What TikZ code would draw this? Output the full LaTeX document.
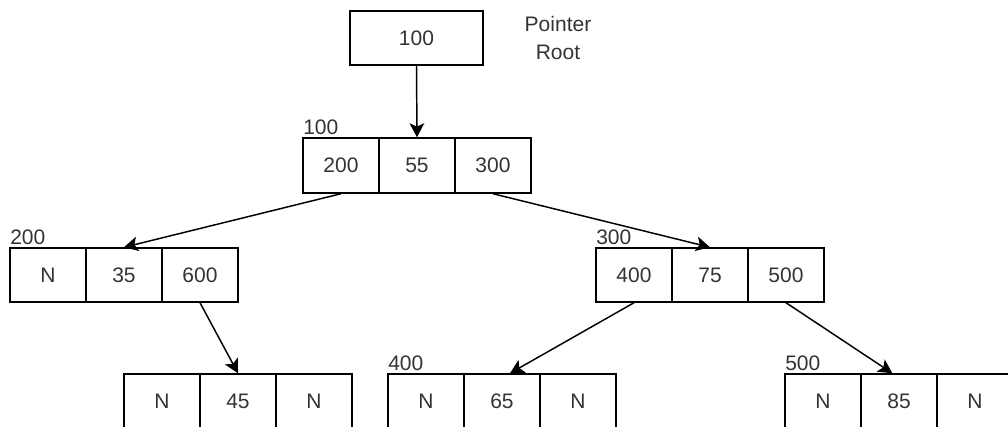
\documentclass[tikz,border=0pt]{standalone}
\usepackage{fontspec}
\setmainfont{Liberation Sans}
\usetikzlibrary{arrows.meta}
\definecolor{txt}{HTML}{333333}
\begin{document}
\begin{tikzpicture}[x=0.75pt,y=-0.75pt,
  cell/.style={draw=black, line width=1.1pt, minimum width=57pt, minimum height=40.5pt,
    inner sep=0pt, text=txt, font=\fontsize{15.75}{20}\selectfont},
  lbl/.style={anchor=base west, inner sep=0pt, text=txt, font=\fontsize{15.75}{20}\selectfont},
  arr/.style={line width=1.1pt, -{Stealth[length=10.5pt,width=11pt,inset=2.5pt]}}
]
\useasboundingbox (0,0) rectangle (1008,427);
\clip (0,0) rectangle (1008,427);

% pointer box
\node[cell, minimum width=100pt] (ptr) at (416.5,38) {100};
\node[inner sep=0pt, align=center, text=txt, font=\fontsize{15.75}{20.5}\selectfont] (ptrlbl) at (558,38) {Pointer\\Root};

% root node 100
\node[cell, minimum height=41.25pt] (r1) at (341,165.5) {200};
\node[cell, minimum height=41.25pt] (r2) at (417,165.5) {55};
\node[cell, minimum height=41.25pt] (r3) at (493,165.5) {300};
\node[lbl] (lr) at (303,135) {100};

% node 200
\node[cell] (a1) at (48,275) {N};
\node[cell] (a2) at (124,275) {35};
\node[cell] (a3) at (200,275) {600};
\node[lbl] (la) at (10,245) {200};

% node 300
\node[cell] (b1) at (634,275) {400};
\node[cell] (b2) at (710,275) {75};
\node[cell] (b3) at (786,275) {500};
\node[lbl] (lb) at (596,245) {300};

% node 600
\node[cell] (c1) at (162,401) {N};
\node[cell] (c2) at (238,401) {45};
\node[cell] (c3) at (314,401) {N};

% node 400
\node[cell] (d1) at (426,401) {N};
\node[cell] (d2) at (502,401) {65};
\node[cell] (d3) at (578,401) {N};
\node[lbl] (ld) at (388,371) {400};

% node 500
\node[cell] (e1) at (823,401) {N};
\node[cell] (e2) at (899,401) {85};
\node[cell] (e3) at (975,401) {N};
\node[lbl] (le) at (785,371) {500};

% connectors
\draw[arr] (ptr.south) -- (r2.north);
\draw[arr] (r1.south) -- (a2.north);
\draw[arr] (r3.south) -- (b2.north);
\draw[arr] (a3.south) -- (c2.north);
\draw[arr] (b1.south) -- ([xshift=6pt]d2.north);
\draw[arr] (b3.south) -- ([xshift=-5pt]e2.north);
\end{tikzpicture}
\end{document}
